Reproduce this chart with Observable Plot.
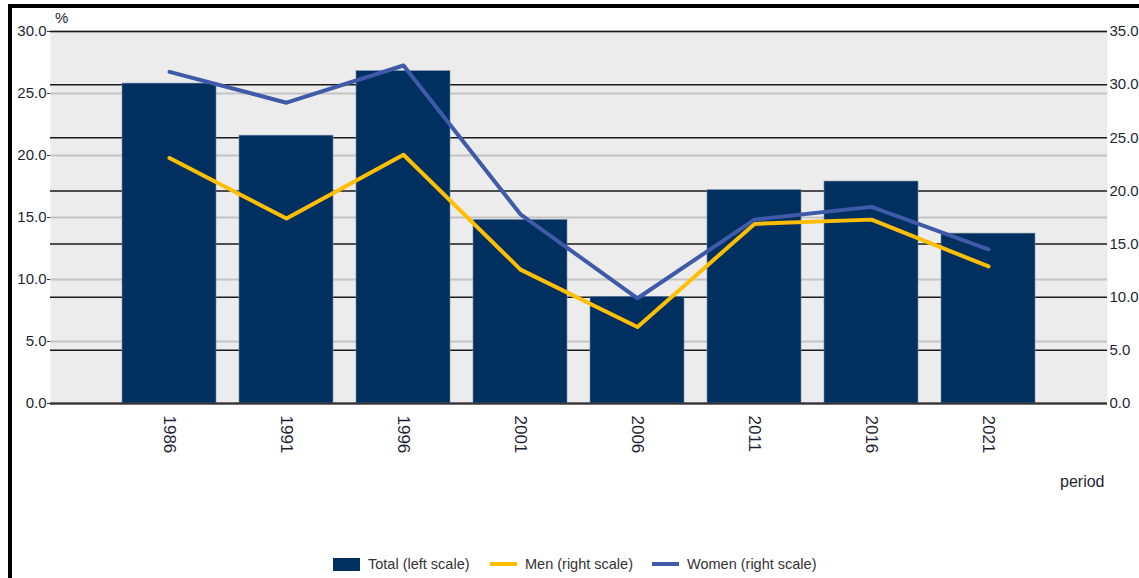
<!DOCTYPE html>
<html>
<head>
<meta charset="utf-8">
<script src="https://cdn.jsdelivr.net/npm/d3@7"></script>
<script src="https://cdn.jsdelivr.net/npm/@observablehq/plot@0.6"></script>
<style>
  body { margin: 0; background: #fff; font-family: "Liberation Sans", Arial, sans-serif; }
  #wrap { position: relative; width: 1139px; height: 578px; overflow: hidden; }
  .bt { position: absolute; left: 8px; top: 4px; width: 1200px; height: 4px; background: #000; }
  .bl { position: absolute; left: 8px; top: 4px; width: 4px; height: 600px; background: #000; }
  #chart { position: absolute; left: 0; top: 0; }
  .lab { position: absolute; color: #1f1f33; white-space: nowrap; }
  #legend { position: absolute; left: 0; top: 540px; width: 1139px; height: 38px; }
  .item { position: absolute; top: 5px; height: 38px; display: flex; align-items: center; font-size: 14.5px; color: #333; }
  .sw { display: inline-block; margin-right: 8px; }
</style>
</head>
<body>
<div id="wrap">
  <div id="chart"></div>
  <div class="bt"></div>
  <div class="bl"></div>
  <div class="lab" style="left:55px; top:9px; font-size:15px;">%</div>
  <div class="lab" style="left:1060px; top:473px; font-size:16px;">period</div>
  <div id="legend"></div>
</div>
<script>
const periods = ["1986", "1991", "1996", "2001", "2006", "2011", "2016", "2021"];
const total = [25.8, 21.6, 26.8, 14.8, 8.6, 17.2, 17.9, 13.7];
const men   = [23.1, 17.4, 23.4, 12.6, 7.2, 16.9, 17.3, 12.9];
const women = [31.2, 28.3, 31.8, 17.8, 9.9, 17.3, 18.5, 14.5];
const leftTicks = [0, 5, 10, 15, 20, 25, 30];
const rightTicks = [0, 5, 10, 15, 20, 25, 30, 35];
const seriesNames = ["Total (left scale)", "Men (right scale)", "Women (right scale)"];
const colors = ["#00305f", "#ffbf00", "#3f5aa8"];

const k = 30 / 35; // right-scale value -> left-scale units
const data = periods.map((p, i) => ({period: p, total: total[i], men: men[i], women: women[i]}));
const rightInLeft = rightTicks.map(v => v * k);

const chart = Plot.plot({
  width: 1139,
  height: 540,
  marginLeft: 50,
  marginRight: 32,
  marginTop: 31,
  marginBottom: 137,
  style: {fontFamily: "'Liberation Sans', Arial, sans-serif", fontSize: "15px", color: "#1f1f33", background: "transparent", overflow: "visible"},
  x: {type: "band", domain: periods, paddingInner: 0.2, paddingOuter: 0.58},
  y: {domain: [0, 30]},
  marks: [
    Plot.frame({fill: "#ececec", stroke: null}),
    Plot.ruleY(leftTicks, {stroke: "#c4c4c4", strokeWidth: 2}),
    Plot.ruleY(rightInLeft, {stroke: "#1a1a1a", strokeWidth: 1.5}),
    Plot.barY(data, {x: "period", y: "total", fill: colors[0], stroke: "#6f8aa8", strokeWidth: 0.6}),
    Plot.lineY(data, {x: "period", y: d => d.men * k, stroke: colors[1], strokeWidth: 4}),
    Plot.lineY(data, {x: "period", y: d => d.women * k, stroke: colors[2], strokeWidth: 4}),
    Plot.ruleY([0], {stroke: "#333", strokeWidth: 2}),
    Plot.axisY(leftTicks, {anchor: "left", tickSize: 3, tickPadding: 1, tickFormat: d => d.toFixed(1), label: null, stroke: "#333"}),
    Plot.axisY(rightInLeft, {anchor: "right", tickSize: 0, tickPadding: 2, tickFormat: d => (d / k).toFixed(1), label: null}),
    Plot.axisX({tickRotate: 90, tickSize: 0, tickPadding: 12, fontSize: 17, label: null})
  ]
});
document.getElementById("chart").appendChild(chart);

const legend = document.getElementById("legend");
const lefts = [333, 490, 652];
seriesNames.forEach((name, i) => {
  const it = document.createElement("div");
  it.className = "item";
  it.style.left = lefts[i] + "px";
  const sw = document.createElement("span");
  sw.className = "sw";
  sw.style.width = "27px";
  sw.style.height = i === 0 ? "13px" : "4px";
  sw.style.background = colors[i];
  it.appendChild(sw);
  const t = document.createElement("span");
  t.textContent = name;
  it.appendChild(t);
  legend.appendChild(it);
});
</script>
</body>
</html>
